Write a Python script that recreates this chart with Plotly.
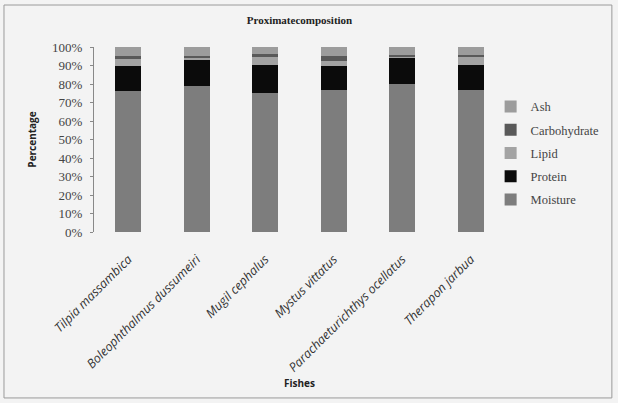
import plotly.graph_objects as go

fishes = ["Tilpia massambica", "Boleophthalmus dussumeiri", "Mugil cephalus",
          "Mystus vittatus", "Parachaeturichthys ocellatus", "Therapon jarbua"]
moisture = [76.0, 79.0, 75.1, 76.9, 80.0, 76.5]
protein = [14.0, 14.3, 15.3, 13.0, 14.1, 13.9]
lipid = [3.5, 0.6, 4.2, 2.3, 0.8, 4.2]
carbohydrate = [1.8, 1.3, 1.8, 2.7, 0.9, 1.2]
ash = [4.7, 4.8, 3.6, 5.1, 4.2, 4.2]

series = [
    ("Moisture", moisture, "#7d7d7d"),
    ("Protein", protein, "#0b0b0b"),
    ("Lipid", lipid, "#a3a3a3"),
    ("Carbohydrate", carbohydrate, "#595959"),
    ("Ash", ash, "#9c9c9c"),
]

fig = go.Figure()
for i, (name, vals, col) in enumerate(series):
    fig.add_trace(go.Bar(x=fishes, y=vals, name=name, marker_color=col,
                         marker_line_width=0, width=0.38, legendgroup=name,
                         legendrank=len(series) - i))

serif = "Liberation Serif, Times New Roman, serif"
sans = "Open Sans, Liberation Sans, sans-serif"

fig.update_layout(
    width=618, height=403,
    barmode="stack", barnorm="percent",
    margin=dict(l=94, r=113, t=47, b=171),
    paper_bgcolor="#f3f3f3", plot_bgcolor="#f3f3f3",
    title=dict(text="<b>Proximatecomposition</b>", x=0.5, xref="paper",
               y=1 - 20 / 403, yref="container", xanchor="center", yanchor="middle",
               font=dict(family=serif, size=11, color="#222")),
    legend=dict(x=0.965, y=0.757, xanchor="left", yanchor="top",
                traceorder="grouped", tracegroupgap=4,
                font=dict(family=serif, size=12.5, color="#444"),
                bgcolor="rgba(0,0,0,0)", itemwidth=30, borderwidth=0),
    showlegend=True,
    xaxis=dict(tickangle=-45, automargin=False,
               tickfont=dict(family=sans, size=12.5, color="#333", style="italic"),
               showline=False, ticks="outside", ticklen=14, tickcolor="rgba(0,0,0,0)",
               showgrid=False),
    yaxis=dict(range=[0, 100], dtick=10, ticksuffix="%", showgrid=False, automargin=False,
               zeroline=False, showline=True, linecolor="#888", linewidth=1, ticks="outside",
               ticklen=3, tickcolor="#888", ticklabelstandoff=5,
               tickfont=dict(family=serif, size=13, color="#444"),
               title=dict(text="<b>Percentage</b>", font=dict(family=sans, size=10, color="#222"),
                          standoff=13)),
)

fig.add_annotation(text="<b>Fishes</b>", xref="paper", yref="paper",
                   x=0.5, y=(232 - 383) / 185, showarrow=False, yanchor="middle",
                   font=dict(family=sans, size=10, color="#222"))

fig.add_shape(type="rect", xref="paper", yref="paper",
              x0=-0.219, x1=1.26, y0=-0.897, y1=1.227,
              line=dict(color="#9a9a9a", width=1), layer="below")

fig.write_html("out.html", config={"displayModeBar": False},
               post_script="document.body.style.margin='0';")
